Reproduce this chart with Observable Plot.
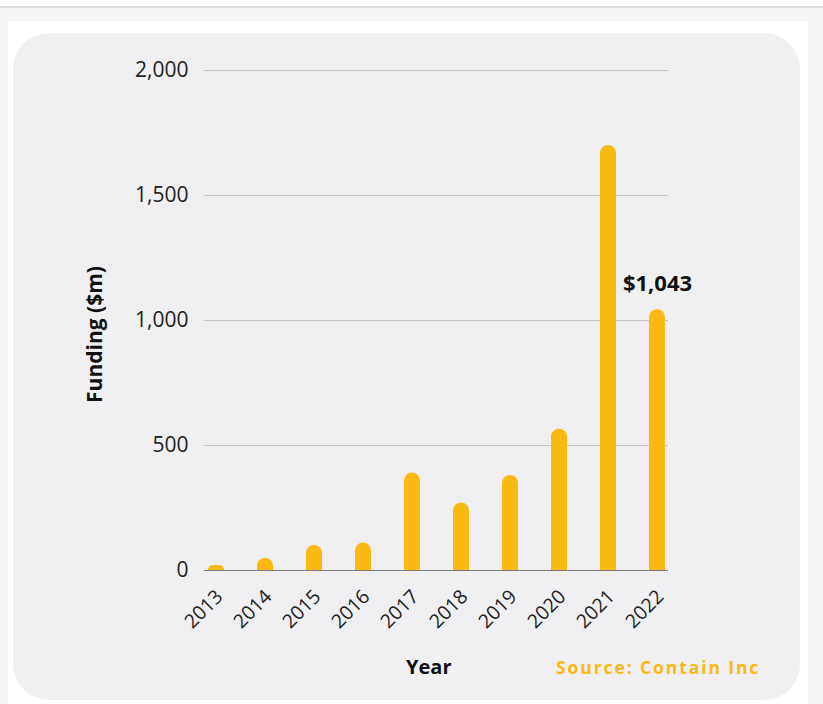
<!DOCTYPE html>
<html>
<head>
<meta charset="utf-8">
<script src="https://cdn.jsdelivr.net/npm/d3@7"></script>
<script src="https://cdn.jsdelivr.net/npm/@observablehq/plot@0.6"></script>
<style>
  html, body { margin: 0; padding: 0; }
  body { width: 823px; height: 704px; overflow: hidden; background: #f4f4f4; position: relative; font-family: "Open Sans", sans-serif; }
  #topwhite { position: absolute; left: 0; top: 0; width: 823px; height: 6px; background: #ffffff; }
  #topline { position: absolute; left: 0; top: 6px; width: 823px; height: 2px; background: #dddddd; }
  #card { position: absolute; left: 8px; top: 21px; width: 800px; height: 683px; background: #ffffff; }
  #panel { position: absolute; left: 13px; top: 33px; width: 787px; height: 667px; background: #f0f0f2; border-radius: 36px; }
  #chart { position: absolute; left: 0; top: 0; }
  .xlabel { position: absolute; left: 393px; top: 620px; font-weight: 700; font-size: 20px; color: #111; }
  .source { position: absolute; left: 543px; top: 622px; font-weight: 700; font-size: 17.5px; color: #FDB913; letter-spacing: 1.9px; }
</style>
</head>
<body>
<div id="topwhite"></div>
<div id="topline"></div>
<div id="card"></div>
<div id="panel">
  <div id="chart"></div>
  <div class="xlabel">Year</div>
  <div class="source">Source: Contain Inc</div>
</div>
<script>
const years = ["2013","2014","2015","2016","2017","2018","2019","2020","2021","2022"];
const funding = [20, 48, 100, 110, 390, 270, 380, 565, 1700, 1043];
const yTicks = [0, 500, 1000, 1500, 2000];
const gridTicks = [500, 1000, 1500, 2000];
const highlightYear = "2022";
const highlightValue = 1043;
const highlightLabel = "$1,043";
const yLabel = "Funding ($m)";

const data = years.map((y, i) => ({year: y, value: funding[i]}));

const chart = Plot.plot({
  width: 787,
  height: 667,
  marginLeft: 191,
  marginRight: 132,
  marginTop: 37,
  marginBottom: 130,
  style: {background: "transparent", fontFamily: "Open Sans, sans-serif", fontSize: "17px", color: "#222"},
  x: {type: "band", domain: years, paddingInner: 0.68, paddingOuter: 0, label: null},
  y: {domain: [0, 2000], label: null},
  marks: [
    Plot.ruleY(gridTicks, {stroke: "#c6c6c6", strokeWidth: 1}),
    Plot.barY(data, {x: "year", y: "value", fill: "#FDB913", ry1: 8}),
    Plot.ruleY([0], {stroke: "#7a7a7a", strokeWidth: 1.2}),
    Plot.text([{year: highlightYear, value: highlightValue}], {x: "year", y: "value", text: () => highlightLabel, dy: -26, fontWeight: "bold", fontSize: 22, fill: "#111"}),
    Plot.axisY({ticks: yTicks, tickFormat: d3.format(","), tickSize: 0, tickPadding: 16, fontSize: 21, fill: "#222", label: null}),
    Plot.axisX({tickRotate: -45, tickSize: 0, tickPadding: 23, dx: 3, fontSize: 19.5, fill: "#222", label: null}),
    Plot.text([yLabel], {frameAnchor: "left", text: d => d, rotate: -90, textAnchor: "middle", dx: -109, dy: 14, fontWeight: "bold", fontSize: 21, fill: "#111"})
  ]
});
document.getElementById("chart").appendChild(chart);
</script>
</body>
</html>
